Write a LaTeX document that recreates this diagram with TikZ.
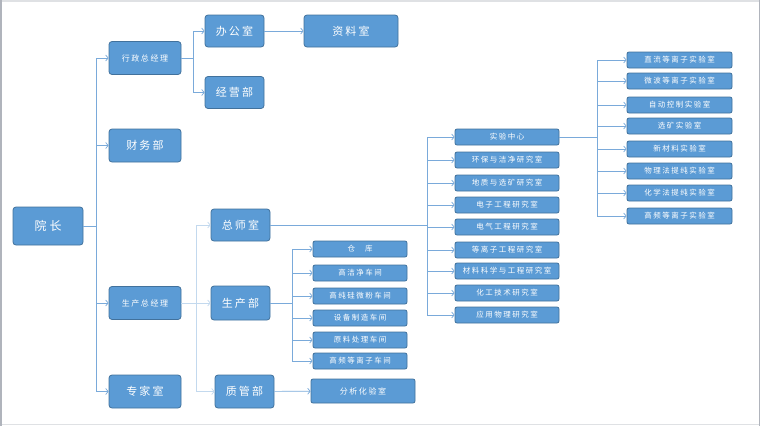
\documentclass[tikz,border=0pt]{standalone}
\usepackage{fontspec}
\newfontfamily\cjk[LetterSpace=20]{Noto Sans CJK SC}
\usetikzlibrary{arrows.meta}
\definecolor{boxfill}{HTML}{5B9BD5}
\definecolor{boxline}{HTML}{41719C}
\definecolor{linkblue}{HTML}{7AAADA}
\definecolor{frame}{HTML}{B0B4BC}

\begin{document}
\begin{tikzpicture}[x=1pt,y=-1pt,line width=0.8pt,
  box/.style={draw=boxline,fill=boxfill,rounded corners=3pt,text=white,inner sep=0pt},
  bigbox/.style={box,minimum width=72pt,minimum height=33pt,font=\cjk\fontsize{11}{13}\selectfont},
  midbox/.style={box,minimum width=59pt,minimum height=32pt,font=\cjk\fontsize{11}{13}\selectfont},
  smallbox/.style={box,rounded corners=2pt,minimum height=16pt,font=\cjk\fontsize{7.5}{9}\selectfont},
  link/.style={draw=linkblue,line width=0.7pt},
  arr/.style={link,-{Straight Barb[length=2.5pt,width=6pt]}},
  pale/.style={draw=linkblue!45}]
 \useasboundingbox (0,0) rectangle (760,426);
 \draw[frame!40,line width=1.5pt] (0,0.75) -- (760,0.75) (0,424.5) -- (760,424.5);
 \draw[frame,line width=1.5pt] (0.75,0) -- (0.75,426) (759.25,0) -- (759.25,426);

 % top level
 \node[box,minimum width=70pt,minimum height=38pt,font=\cjk\fontsize{12}{14}\selectfont] (yz) at (48,226) {院\hspace{3pt}长};
 \node[bigbox,font=\cjk\fontsize{8}{10}\selectfont] (xzzjl) at (145,58) {行政总经理};
 \node[bigbox] (cwb) at (145,145.5) {财务部};
 \node[bigbox,font=\cjk\fontsize{8}{10}\selectfont] (sczjl) at (145,303) {生产总经理};
 \node[bigbox] (zjs) at (145,391.5) {专家室};

 % second level
 \node[midbox] (bgs) at (234.5,31) {办公室};
 \node[box,minimum width=94pt,minimum height=32pt,font=\cjk\fontsize{11}{13}\selectfont] (zls) at (351,31) {资料室};
 \node[midbox] (jyb) at (234.5,92.5) {经营部};
 \node[midbox] (zss) at (240.5,225) {总师室};
 \node[midbox,minimum height=34pt] (scb) at (240.5,303) {生产部};
 \node[midbox,minimum height=33pt] (zgb) at (244.5,391.5) {质管部};
 \node[smallbox,minimum width=104pt,minimum height=24pt,font=\cjk\fontsize{8}{10}\selectfont] (fxhys) at (363,391) {分析化验室};

 % workshops
 \foreach \y/\n/\t in {249/w1/仓\hspace{10pt}库,273/w2/高洁净车间,296/w3/高纯硅微粉车间,
   318/w4/设备制造车间,340/w5/原料处理车间,361/w6/高频等离子车间}
   \node[smallbox,minimum width=94pt] (\n) at (360,\y) {\t};

 % research rooms
 \foreach \y/\n/\t in {137/r1/实验中心,160/r2/环保与洁净研究室,183/r3/地质与选矿研究室,
   205/r4/电子工程研究室,227/r5/电气工程研究室,250/r6/等离子工程研究室,
   271/r7/材料科学与工程研究室,293/r8/化工技术研究室,315/r9/应用物理研究室}
   \node[smallbox,minimum width=104pt] (\n) at (507,\y) {\t};

 % labs
 \foreach \y/\n/\t in {60/l1/直流等离子实验室,81/l2/微波等离子实验室,105/l3/自动控制实验室,
   126/l4/选矿实验室,149/l5/新材料实验室,171/l6/物理法提纯实验室,
   193/l7/化学法提纯实验室,216/l8/高频等离子实验室}
   \node[smallbox,minimum width=105pt] (\n) at (679.5,\y) {\t};

 % connectors
 \draw[link] (yz.east) -- ++(13,0) coordinate (trunk);
 \foreach \n in {xzzjl,cwb,sczjl,zjs} \draw[arr] (trunk) |- (\n.west);
 \draw[link] (xzzjl.east) -- ++(12,0) coordinate (xbr);
 \foreach \n in {bgs,jyb} \draw[arr] (xbr) |- (\n.west);
 \draw[arr] (bgs) -- (zls);
 \draw[link,pale] (sczjl.east) -- ++(15,0) coordinate (pbr);
 \foreach \n in {zss,scb,zgb} \draw[arr,pale] (pbr) |- (\n.west);
 \draw[link] (scb.east) -- ++(22,0) coordinate (wbr);
 \foreach \n in {w1,w2,w3,w4,w5,w6} \draw[arr] (wbr) |- (\n.west);
 \draw[arr] (zgb) -- (fxhys);
 \draw[link] (zss.east) -- ++(157,0) coordinate (rbr);
 \foreach \n in {r1,r2,r3,r4,r5,r6,r7,r8,r9} \draw[arr] (rbr) |- (\n.west);
 \draw[link] (r1.east) -- ++(38,0) coordinate (lbr);
 \foreach \n in {l1,l2,l3,l4,l5,l6,l7,l8} \draw[arr] (lbr) |- (\n.west);
\end{tikzpicture}
\end{document}
